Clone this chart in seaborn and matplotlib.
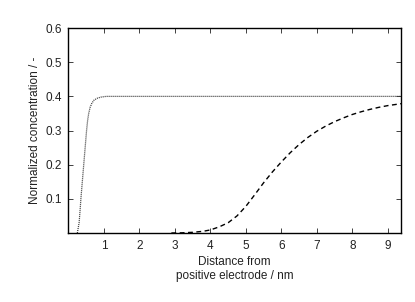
import numpy as np
import matplotlib
matplotlib.use("Agg")
import matplotlib.pyplot as plt
import seaborn as sns

# dotted curve (fast rise near the electrode)
x_dot = [0.25, 0.30, 0.33, 0.35, 0.39, 0.43, 0.47, 0.51, 0.54, 0.57, 0.61, 0.66, 0.72, 0.82, 0.92, 1.06, 1.3, 2.0, 9.4]
y_dot = [0.0, 0.03, 0.07, 0.10, 0.15, 0.20, 0.25, 0.30, 0.33, 0.35, 0.368, 0.38, 0.389, 0.395, 0.398, 0.4, 0.4, 0.4, 0.4]

# dashed curve (slow rise further away)
x_dash = [2.9, 3.2, 3.5, 3.8, 4.0, 4.25, 4.5, 4.75, 5.0, 5.25, 5.5, 5.75, 6.0, 6.25, 6.5, 6.75, 7.0, 7.25, 7.5, 7.75, 8.0, 8.25, 8.5, 8.75, 9.0, 9.2, 9.4]
y_dash = [0.0, 0.0005, 0.002, 0.005, 0.009, 0.018, 0.030, 0.050, 0.078, 0.112, 0.147, 0.179, 0.208, 0.235, 0.259, 0.280, 0.298, 0.313, 0.326, 0.337, 0.347, 0.355, 0.362, 0.368, 0.373, 0.376, 0.379]

xticks = [1, 2, 3, 4, 5, 6, 7, 8, 9]
yticks = [0.1, 0.2, 0.3, 0.4, 0.5, 0.6]

sns.set_style("ticks")
plt.rcParams['font.family'] = ['Liberation Sans', 'DejaVu Sans']
plt.rcParams['xtick.direction'] = 'in'
plt.rcParams['ytick.direction'] = 'in'

fig = plt.figure(figsize=(4.15, 3.02), dpi=100)
ax = fig.add_axes([0.165, 0.2285, 0.801, 0.6785])

sns.lineplot(x=x_dot, y=y_dot, ax=ax, color='#333333', lw=0.9, sort=False)
ax.lines[-1].set_dashes([0.8, 0.8])
sns.lineplot(x=x_dash, y=y_dash, ax=ax, color='black', lw=1.0, sort=False)
ax.lines[-1].set_dashes([3.5, 2.5])

ax.set_xlim(0, 9.37)
ax.set_ylim(0, 0.6)
ax.set_xticks(xticks)
ax.set_yticks(yticks)
ax.set_xticklabels([str(t) for t in xticks])
ax.set_yticklabels([f"{t:.1f}" for t in yticks])
ax.tick_params(axis='both', which='both', top=True, right=True, length=3.5, width=0.6,
               labelsize=8.5, colors='#222222', pad=5)
for s in ax.spines.values():
    s.set_linewidth(1.0)
    s.set_color('black')

ax.set_xlabel("Distance from\npositive electrode / nm", fontsize=8.5, color='#222222', labelpad=3)
ax.set_ylabel("Normalized concentration / -", fontsize=8.5, color='#222222', labelpad=3)

fig.savefig("out.png", dpi=100)
